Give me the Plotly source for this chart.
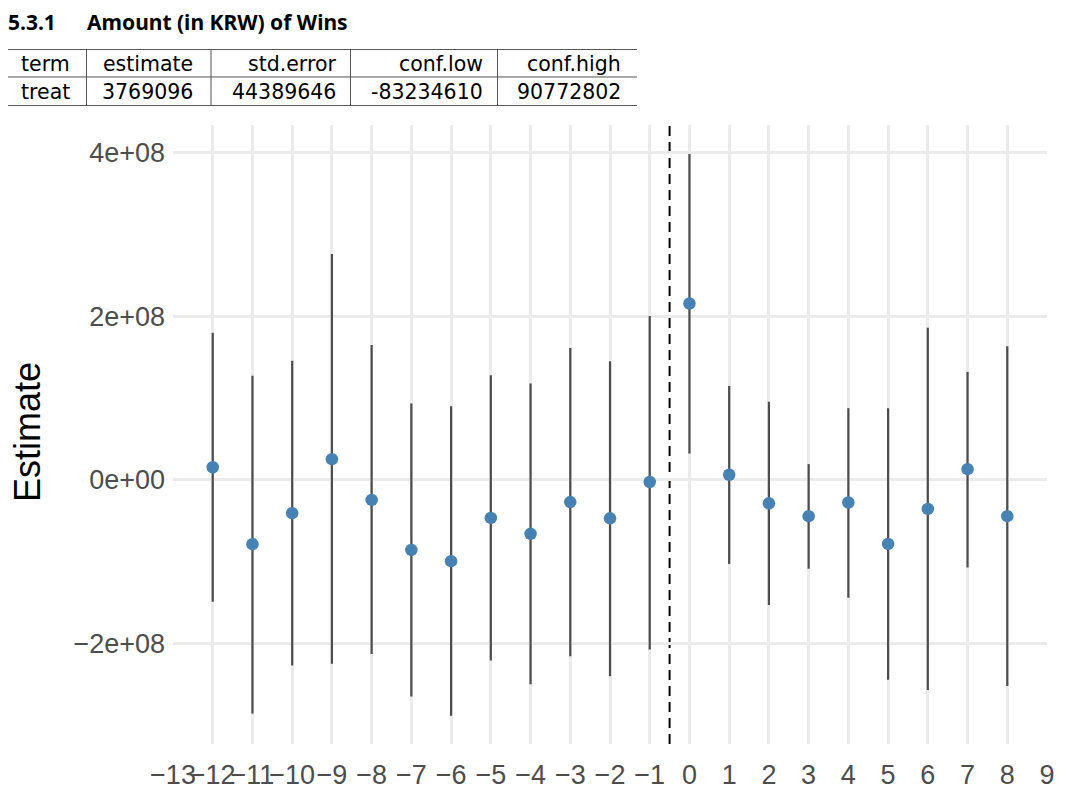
import plotly.graph_objects as go

# ---------------- data ----------------
periods = list(range(-12, 9))
estimates = [1.55e7, -7.86e7, -4.07e7, 2.53e7, -2.45e7, -8.56e7, -9.94e7, -4.65e7,
             -6.6e7, -2.72e7, -4.7e7, -0.26e7, 2.157e8, 0.63e7, -2.87e7, -4.44e7,
             -2.77e7, -7.83e7, -3.55e7, 1.31e7, -4.44e7]
conf_low = [-1.49e8, -2.857e8, -2.27e8, -2.25e8, -2.13e8, -2.65e8, -2.885e8, -2.21e8,
            -2.50e8, -2.157e8, -2.402e8, -2.073e8, 0.324e8, -1.029e8, -1.53e8, -1.086e8,
            -1.441e8, -2.444e8, -2.569e8, -1.071e8, -2.522e8]
conf_high = [1.80e8, 1.275e8, 1.458e8, 2.763e8, 1.65e8, 0.933e8, 0.90e8, 1.28e8,
             1.18e8, 1.614e8, 1.452e8, 2.005e8, 3.984e8, 1.149e8, 0.956e8, 0.193e8,
             0.877e8, 0.877e8, 1.859e8, 1.321e8, 1.634e8]

x_tick_vals = list(range(-13, 10))
x_tick_text = [("\u2212" + str(-v)) if v < 0 else str(v) for v in x_tick_vals]
y_tick_vals = [-2e8, 0, 2e8, 4e8]
y_tick_text = ["\u22122e+08", "0e+00", "2e+08", "4e+08"]

table_header = ["term", "estimate", "std.error", "conf.low", "conf.high"]
table_row = ["treat", "3769096", "44389646", "-83234610", "90772802"]

title_num = "5.3.1"
title_text = "Amount (in KRW) of Wins"
y_title = "Estimate"

# ---------------- layout helpers ----------------
OFF = 8  # page body margin
W, H = 1066 - OFF, 792 - OFF
L, R, T, B = 173 - OFF, 19, 125 - OFF, 48
PW, PH = W - L - R, H - T - B


def px(xp):
    return (xp - OFF - L) / PW


def py(yp):
    return (H - B - (yp - OFF)) / PH


err_plus = [h - e for h, e in zip(conf_high, estimates)]
err_minus = [e - l for e, l in zip(estimates, conf_low)]

fig = go.Figure()
fig.add_trace(go.Scatter(
    x=periods, y=estimates, mode="markers",
    marker=dict(color="#4682B4", size=12.5, line=dict(width=0)),
    error_y=dict(type="data", symmetric=False, array=err_plus, arrayminus=err_minus,
                 color="#4D4D4D", thickness=2.2, width=0),
    showlegend=False, hoverinfo="skip",
))

shapes = [
    dict(type="line", xref="paper", x0=0, x1=1, yref="y", y0=0, y1=0,
         line=dict(color="black", width=2, dash="9px,5px"), layer="between"),
    dict(type="line", xref="x", x0=-0.5, x1=-0.5, yref="paper", y0=0, y1=1,
         line=dict(color="black", width=2, dash="10px,6px"), layer="between"),
]

# table lines
tbl_left, tbl_right = 7, 637
tbl_lines_y = [49.5, 77, 105.5]
col_edges = [86.5, 211, 350.5, 497.5]
for yy in tbl_lines_y:
    shapes.append(dict(type="line", xref="paper", yref="paper",
                       x0=px(tbl_left), x1=px(tbl_right), y0=py(yy), y1=py(yy),
                       line=dict(color="#555555", width=1)))
for xx in col_edges:
    shapes.append(dict(type="line", xref="paper", yref="paper",
                       x0=px(xx), x1=px(xx), y0=py(tbl_lines_y[0]), y1=py(tbl_lines_y[2]),
                       line=dict(color="#555555", width=1)))

annotations = []
text_right = [71.5, 195, 338, 484.5, 622.5]
tfont = dict(family="DejaVu Sans", size=20.5, color="black")
for i in range(5):
    annotations.append(dict(text=table_header[i], xref="paper", yref="paper",
                            x=px(text_right[i]), y=py(63.5), xanchor="right", yanchor="middle",
                            showarrow=False, font=tfont))
    annotations.append(dict(text=table_row[i], xref="paper", yref="paper",
                            x=px(text_right[i]), y=py(91.5), xanchor="right", yanchor="middle",
                            showarrow=False, font=tfont))

hfont = dict(family="Noto Sans", size=21, color="black")
annotations.append(dict(text="<b>" + title_num + "</b>", xref="paper", yref="paper",
                        x=px(7), y=py(22), xanchor="left", yanchor="middle", showarrow=False,
                        font=hfont, borderpad=0))
annotations.append(dict(text="<b>" + title_text + "</b>", xref="paper", yref="paper",
                        x=px(86), y=py(22), xanchor="left", yanchor="middle", showarrow=False,
                        font=hfont, borderpad=0))
annotations.append(dict(text=y_title, xref="paper", yref="paper", textangle=-90,
                        x=px(28), y=py(432), xanchor="center", yanchor="middle", showarrow=False,
                        font=dict(family="Liberation Sans", size=36, color="black")))

fig.update_layout(
    width=W, height=H,
    margin=dict(l=L, r=R, t=T, b=B, pad=0, autoexpand=False),
    paper_bgcolor="white", plot_bgcolor="white",
    shapes=shapes, annotations=annotations,
    xaxis=dict(range=[-13, 9], tickmode="array", tickvals=x_tick_vals, ticktext=x_tick_text,
               tickangle=0, automargin=False,
               showgrid=True, gridcolor="#EBEBEB", gridwidth=2.5, zeroline=False,
               showline=False, ticks="", ticklabelstandoff=12,
               tickfont=dict(family="Liberation Sans", size=27, color="#4D4D4D")),
    yaxis=dict(range=[-3.23e8, 4.34e8], tickmode="array", tickvals=y_tick_vals, ticktext=y_tick_text,
               automargin=False,
               showgrid=True, gridcolor="#EBEBEB", gridwidth=2.5, zeroline=False,
               showline=False, ticks="", ticklabelstandoff=7,
               tickfont=dict(family="Liberation Sans", size=27, color="#4D4D4D")),
)

fig.write_html("out.html")
